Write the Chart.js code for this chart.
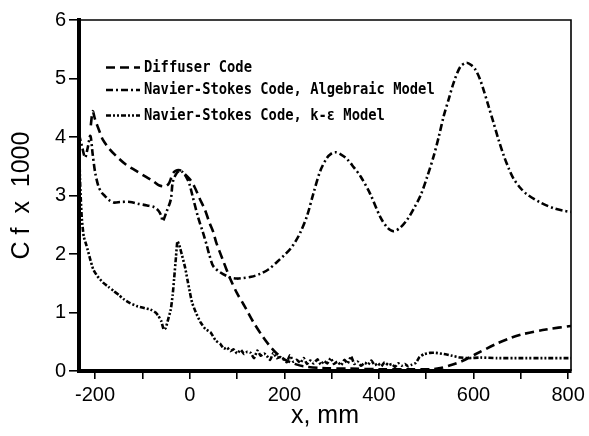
<!DOCTYPE html>
<html>
<head>
<meta charset="utf-8">
<script src="https://cdn.jsdelivr.net/npm/chart.js@4/dist/chart.umd.min.js"></script>
<style>
html,body{margin:0;padding:0;background:#fff;}
canvas{display:block;}
</style>
</head>
<body>
<canvas id="c" width="589" height="436"></canvas>
<script>
// ---- Data ----
const seriesNames = ["Diffuser Code", "Navier-Stokes Code, Algebraic Model", "Navier-Stokes Code, k-\u03B5 Model"];

const diffX = [-209,-205,-200,-190,-184,-170,-156,-135,-113,-95,-78,-64,-50,-43,-36,-30,-21,-12,0,10,21,32,42,50,56,70,85,100,113,120,135,155,170,184,200,219,240,280,340,400,460,510,530,548,576,605,647,680,704,753,806];
const diffY = [4.2,4.44,4.3,4.08,3.96,3.8,3.68,3.53,3.42,3.33,3.25,3.17,3.16,3.22,3.37,3.42,3.43,3.38,3.28,3.15,2.95,2.76,2.53,2.37,2.2,1.9,1.59,1.33,1.15,1.05,0.83,0.58,0.42,0.3,0.2,0.13,0.08,0.05,0.04,0.03,0.03,0.03,0.05,0.09,0.17,0.29,0.46,0.57,0.63,0.71,0.77];

const algX = [-234,-228,-221,-216,-210,-205,-200,-193,-186,-179,-170,-161,-145,-126,-110,-90,-75,-66,-60,-57,-50,-40,-36,-30,-22,-15,-5,0,7,18,28,36,42,50,64,85,100,113,130,149,167,184,200,213,224,234,248,262,276,290,300,308,320,333,347,361,382,403,418,431,445,460,474,488,502,516,527,537,548,558,572,585,595,604,613,621,632,642,653,664,675,685,700,713,741,770,790,806];
const algY = [4.05,3.85,3.65,3.8,4.02,3.7,3.4,3.16,3.05,2.99,2.92,2.88,2.89,2.89,2.86,2.83,2.8,2.74,2.65,2.56,2.7,2.93,3.22,3.35,3.42,3.4,3.28,3.18,2.96,2.62,2.37,2.15,1.97,1.79,1.69,1.6,1.58,1.59,1.61,1.66,1.74,1.86,1.98,2.09,2.22,2.37,2.65,3.05,3.42,3.64,3.72,3.74,3.7,3.62,3.48,3.33,3.02,2.63,2.45,2.39,2.45,2.59,2.78,3.0,3.32,3.68,4.02,4.36,4.66,4.93,5.2,5.27,5.23,5.15,5.0,4.81,4.52,4.25,3.95,3.68,3.45,3.28,3.12,3.02,2.88,2.78,2.74,2.72];

const keX = [-234,-232,-230,-228,-224,-218,-211,-204,-195,-183,-172,-161,-150,-140,-126,-112,-98,-83,-72,-66,-60,-55,-51,-45,-40,-36,-33,-29,-26,-22,-16,-10,-5,0,5,13,23,33,44,55,65,72,79,86,93,100,108,115,122,129,136,143,150,157,163,170,177,184,191,198,205,212,219,226,234,241,248,255,262,270,277,284,291,298,305,312,320,327,334,341,348,355,362,370,377,384,391,398,405,412,420,427,434,441,448,455,462,470,478,486,496,508,520,537,555,572,590,614,650,700,750,806];
const keY = [4.0,3.3,2.9,2.6,2.3,2.14,1.93,1.74,1.62,1.51,1.44,1.37,1.3,1.23,1.16,1.11,1.08,1.05,1.0,0.94,0.85,0.71,0.73,0.9,1.05,1.3,1.57,1.95,2.22,2.15,1.97,1.78,1.57,1.36,1.17,1.0,0.83,0.72,0.66,0.52,0.46,0.38,0.4,0.34,0.37,0.3,0.36,0.29,0.33,0.31,0.22,0.35,0.26,0.3,0.26,0.19,0.31,0.22,0.24,0.2,0.15,0.27,0.16,0.19,0.14,0.22,0.12,0.18,0.13,0.2,0.11,0.17,0.13,0.22,0.12,0.16,0.1,0.19,0.13,0.25,0.12,0.16,0.09,0.14,0.11,0.18,0.1,0.13,0.08,0.15,0.1,0.12,0.07,0.13,0.09,0.12,0.08,0.11,0.14,0.24,0.29,0.31,0.31,0.29,0.26,0.23,0.22,0.23,0.22,0.22,0.22,0.22];

const xTickValues = [-200,-100,0,100,200,300,400,500,600,700,800];
const xLabelValues = [-200,0,200,400,600,800];
const yTickValues = [0,1,2,3,4,5,6];

// ---- styles ----
const dashes = [[9,5],[7,3,2,3],[5,2,2,2,2,2]];
const toPts = (xs, ys) => xs.map((x, i) => ({x: x, y: ys[i]}));

const framePlugin = {
  id: 'frame',
  afterDraw(chart) {
    const {ctx, chartArea: a} = chart;
    ctx.save();
    ctx.strokeStyle = '#000';
    ctx.lineWidth = 1.6;
    ctx.setLineDash([]);
    ctx.beginPath();
    ctx.moveTo(a.left, a.top);
    ctx.lineTo(a.right, a.top);
    ctx.lineTo(a.right, a.bottom);
    ctx.stroke();
    ctx.restore();
  }
};

const legendPlugin = {
  id: 'customLegend',
  afterDraw(chart) {
    const {ctx} = chart;
    const rowsY = [67.5, 90, 115.5];
    ctx.save();
    ctx.fillStyle = '#000';
    ctx.strokeStyle = '#000';
    ctx.textBaseline = 'middle';
    ctx.textAlign = 'left';
    seriesNames.forEach((name, i) => {
      const y = rowsY[i];
      ctx.lineWidth = 2.4;
      ctx.setLineDash(dashes[i]);
      ctx.beginPath();
      ctx.moveTo(106, y);
      ctx.lineTo(140, y);
      ctx.stroke();
      ctx.setLineDash([]);
      ctx.save();
      ctx.translate(144, y);
      ctx.scale(1, 1.18);
      ctx.font = 'bold 13.8px "DejaVu Sans Mono"';
      ctx.fillText(name, 0, 0);
      ctx.restore();
    });
    ctx.restore();
  }
};

const tickFont = {family: '"Liberation Sans", Arial, sans-serif', size: 20};
const titleFont = {family: '"Liberation Sans", Arial, sans-serif', size: 25};

new Chart(document.getElementById('c'), {
  type: 'line',
  data: {
    datasets: [
      {label: seriesNames[0], data: toPts(diffX, diffY), borderDash: dashes[0]},
      {label: seriesNames[1], data: toPts(algX, algY), borderDash: dashes[1]},
      {label: seriesNames[2], data: toPts(keX, keY), borderDash: dashes[2], tension: 0.15}
    ].map(d => Object.assign({
      borderColor: '#000', backgroundColor: '#000', borderWidth: 2.6,
      pointRadius: 0, fill: false, tension: 0.3
    }, d))
  },
  options: {
    responsive: false,
    animation: false,
    layout: {padding: {left: 7, right: 18, top: 20, bottom: 5}},
    plugins: {legend: {display: false}, tooltip: {enabled: false}},
    scales: {
      x: {
        type: 'linear', min: -234, max: 806,
        afterBuildTicks: s => { s.ticks = xTickValues.map(v => ({value: v})); },
        afterFit: s => { s.height = 60; },
        ticks: {
          autoSkip: false, maxRotation: 0, color: '#000', font: tickFont, padding: 4,
          callback: v => xLabelValues.includes(v) ? String(v) : ''
        },
        grid: {drawOnChartArea: false, drawTicks: true, tickLength: 8, color: '#000', lineWidth: 1.6},
        border: {display: true, color: '#000', width: 4},
        title: {display: true, text: 'x, mm', color: '#000', font: titleFont, padding: 0}
      },
      y: {
        type: 'linear', min: 0, max: 6,
        afterBuildTicks: s => { s.ticks = yTickValues.map(v => ({value: v})); },
        afterFit: s => { s.width = 72; },
        ticks: {color: '#000', font: tickFont, padding: 3},
        grid: {drawOnChartArea: false, drawTicks: true, tickLength: 10, color: '#000', lineWidth: 1.6},
        border: {display: true, color: '#000', width: 4},
        title: {display: true, text: 'C f  x  1000', color: '#000', font: titleFont, padding: 0}
      }
    }
  },
  plugins: [framePlugin, legendPlugin]
});
</script>
</body>
</html>
